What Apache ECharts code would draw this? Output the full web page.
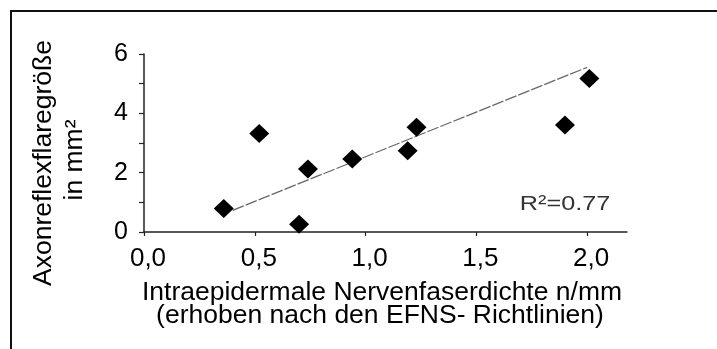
<!DOCTYPE html>
<html>
<head>
<meta charset="utf-8">
<script src="https://cdn.jsdelivr.net/npm/echarts@6/dist/echarts.min.js"></script>
<style>
html,body{margin:0;padding:0;background:#fff;}
#c{width:717px;height:349px;}
</style>
</head>
<body>
<div id="c"></div>
<script>
// Data
const xValues = [0.36, 0.52, 0.70, 0.74, 0.94, 1.19, 1.23, 1.90, 2.01];
const yValues = [0.79, 3.32, 0.26, 2.12, 2.46, 2.74, 3.53, 3.61, 5.17];
const trendX = [0.40, 2.00];
const trendY = [0.73, 5.55];
const xTicks = [0, 0.5, 1.0, 1.5, 2.0];
const yTicks = [0, 1, 2, 3, 4, 5, 6];
const yLabels = [0, 2, 4, 6];
const xTitle1 = 'Intraepidermale Nervenfaserdichte n/mm';
const xTitle2 = '(erhoben nach den EFNS- Richtlinien)';
const yTitle1 = 'Axonreflexflaregröße';
const yTitle2 = 'in mm²';
const r2Text = 'R²=0.77';

const FONT = "'Liberation Sans', Arial, sans-serif";
const chart = echarts.init(document.getElementById('c'), null, {renderer: 'canvas'});
const points = xValues.map((x, i) => [x, yValues[i]]);
const trend = trendX.map((x, i) => [x, trendY[i]]);

chart.setOption({
  animation: false,
  backgroundColor: '#fff',
  grid: {left: 144, right: 90, top: 54, bottom: 117, containLabel: false},
  xAxis: {
    type: 'value', min: 0, max: 2.18, interval: 0.5,
    splitLine: {show: false},
    axisLine: {show: true, onZero: false, lineStyle: {color: '#222', width: 1.5}},
    axisTick: {show: true, length: 4, customValues: xTicks, lineStyle: {color: '#222', width: 1.2}},
    axisLabel: {
      customValues: xTicks, margin: 14, fontSize: 26, color: '#000', fontFamily: FONT,
      padding: [0, 0, 0, 8],
      formatter: v => v.toFixed(1).replace('.', ',')
    }
  },
  yAxis: {
    type: 'value', min: 0, max: 6, interval: 1,
    splitLine: {show: false},
    axisLine: {show: true, onZero: false, lineStyle: {color: '#222', width: 1.5}},
    axisTick: {show: true, length: 5, customValues: yTicks, lineStyle: {color: '#222', width: 1.2}},
    axisLabel: {
      customValues: yLabels, margin: 16, fontSize: 25, color: '#000', fontFamily: FONT,
      formatter: v => String(v)
    }
  },
  graphic: [
    {type: 'rect', shape: {x: 11, y: 11, width: 720, height: 360}, style: {fill: null, stroke: '#111', lineWidth: 2}, silent: true},
    {type: 'text', x: 382, y: 293, scaleX: 1.06, style: {text: xTitle1, font: '25px ' + FONT, fill: '#000', align: 'center', verticalAlign: 'middle'}},
    {type: 'text', x: 380, y: 316.5, scaleX: 1.06, style: {text: xTitle2, font: '25px ' + FONT, fill: '#000', align: 'center', verticalAlign: 'middle'}},
    {type: 'text', x: 44.5, y: 163, rotation: Math.PI / 2, scaleX: 1.06, style: {text: yTitle1, font: '25px ' + FONT, fill: '#000', align: 'center', verticalAlign: 'middle'}},
    {type: 'text', x: 75, y: 160, rotation: Math.PI / 2, scaleX: 1.06, style: {text: yTitle2, font: '25px ' + FONT, fill: '#000', align: 'center', verticalAlign: 'middle'}},
    {type: 'text', x: 565, y: 204.5, scaleX: 1.2, style: {text: r2Text, font: '21px ' + FONT, fill: '#333', align: 'center', verticalAlign: 'middle'}}
  ],
  series: [
    {
      type: 'line', data: trend, symbol: 'none', silent: true, z: 1,
      lineStyle: {color: '#666', width: 1.2, type: [12, 2]}
    },
    {
      type: 'scatter', data: points, symbol: 'diamond', symbolSize: [20, 19], z: 2,
      itemStyle: {color: '#000', opacity: 1}
    }
  ]
});
</script>
</body>
</html>
